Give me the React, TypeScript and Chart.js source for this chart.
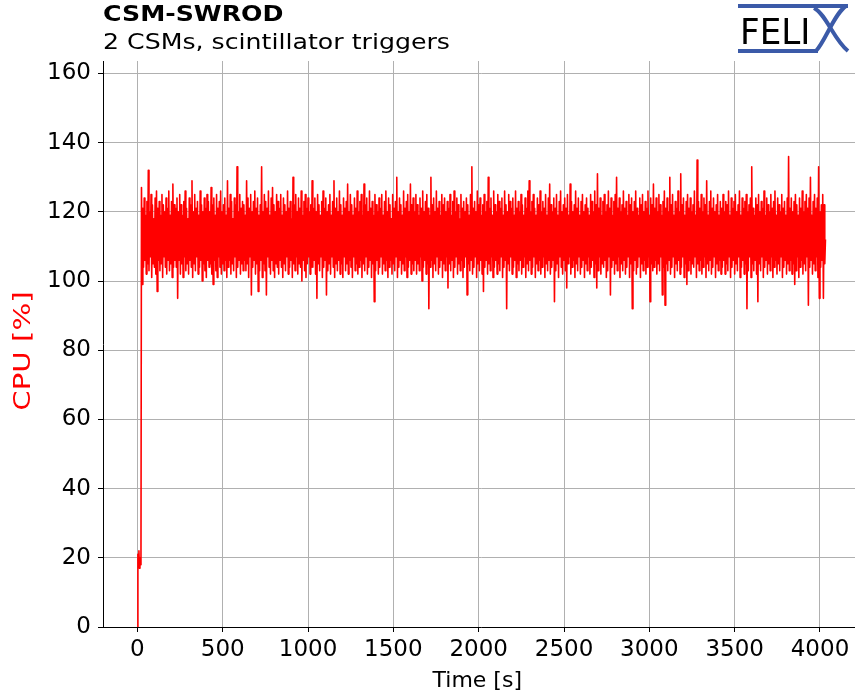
import React, { useEffect, useRef } from "react";
import { Chart, registerables } from "chart.js";

Chart.register(...registerables);

// ---------- text ----------
const titleText = "CSM-SWROD";
const subtitleText = "2 CSMs, scintillator triggers";
const xLabel = "Time [s]";
const yLabel = "CPU [%]";
const logoText = "FELI";

// ---------- ticks ----------
const xTicks = [0, 500, 1000, 1500, 2000, 2500, 3000, 3500, 4000];
const yTicks = [0, 20, 40, 60, 80, 100, 120, 140, 160];

// ---------- data ----------
// start-up phase (seconds, CPU %)
const startupTimes = [0, 3, 6, 9, 12, 15, 18, 21];
const startupCpu = [0, 21, 19, 22, 17, 20, 18, 20];

// steady running: one reading every sampleStep seconds, starting at sampleStart
const sampleStart = 24;
const sampleStep = 4;
const cpuSamples = [
  127, 99, 121, 104, 124, 106, 119, 102, 123, 105, 132, 103, 120, 107, 125, 101, 122, 105, 118, 104, 124, 102, 126, 97, 121, 106, 123, 103, 119, 105, 125, 101, 122, 107, 120, 104, 124, 102, 121, 106, 126, 103, 119, 105, 123, 101, 128, 104, 122, 106,
  121, 104, 124, 95, 120, 106, 125, 102, 122, 105, 119, 101, 123, 107, 126, 103, 121, 105, 118, 102, 124, 106, 122, 104, 129, 101, 120, 105, 125, 103, 121, 107, 123, 102, 119, 104, 126, 106, 122, 100, 120, 105, 124, 103, 121, 101, 125, 106, 123, 104,
  120, 105, 127, 102, 122, 99, 124, 106, 119, 103, 125, 101, 121, 107, 123, 104, 126, 102, 120, 105, 122, 103, 124, 106, 119, 101, 129, 104, 121, 106, 125, 102, 123, 105, 118, 103, 124, 107, 122, 101, 133, 104, 120, 106, 125, 102, 121, 105, 123, 103,
  122, 106, 119, 103, 129, 105, 124, 101, 121, 107, 125, 96, 120, 104, 123, 106, 126, 102, 121, 105, 124, 97, 119, 103, 122, 106, 133, 101, 120, 105, 125, 103, 123, 96, 121, 107, 126, 104, 119, 102, 124, 106, 127, 103, 122, 101, 120, 105, 125, 104,
  123, 102, 121, 106, 125, 104, 119, 101, 124, 105, 122, 103, 120, 107, 126, 102, 121, 104, 123, 106, 118, 101, 130, 105, 122, 103, 125, 107, 120, 102, 124, 105, 121, 104, 126, 100, 119, 106, 123, 103, 125, 101, 121, 105, 124, 107, 120, 102, 122, 104,
  129, 104, 121, 106, 124, 102, 120, 95, 125, 105, 122, 103, 119, 107, 123, 101, 126, 104, 121, 106, 124, 96, 120, 103, 122, 105, 125, 102, 119, 107, 123, 104, 129, 101, 121, 105, 124, 103, 120, 106, 126, 102, 122, 105, 119, 101, 124, 107, 121, 103,
  123, 105, 128, 102, 120, 106, 125, 104, 122, 101, 119, 107, 124, 103, 121, 105, 126, 102, 120, 104, 123, 106, 125, 101, 119, 105, 128, 103, 122, 107, 124, 102, 120, 104, 126, 106, 121, 101, 123, 105, 119, 94, 125, 103, 122, 106, 120, 102, 124, 104,
  121, 107, 125, 102, 119, 105, 123, 103, 126, 106, 120, 101, 124, 104, 122, 106, 118, 102, 125, 105, 121, 103, 123, 107, 130, 101, 120, 104, 124, 106, 122, 102, 119, 105, 126, 103, 121, 107, 123, 101, 125, 104, 120, 106, 128, 102, 122, 105, 124, 103,
  120, 106, 125, 102, 122, 105, 119, 103, 124, 107, 121, 100, 126, 104, 120, 106, 123, 102, 125, 105, 121, 92, 119, 104, 130, 106, 122, 101, 124, 105, 120, 103, 126, 107, 121, 102, 123, 104, 119, 106, 125, 101, 122, 105, 124, 103, 120, 107, 123, 98,
  121, 105, 125, 103, 119, 106, 123, 101, 126, 104, 120, 107, 124, 102, 122, 105, 118, 103, 125, 106, 121, 101, 123, 104, 120, 107, 124, 96, 122, 105, 119, 103, 125, 106, 133, 102, 121, 104, 123, 107, 120, 101, 126, 105, 122, 103, 124, 106, 119, 102,
  122, 97, 125, 104, 120, 106, 123, 102, 130, 105, 121, 103, 124, 107, 119, 101, 126, 104, 122, 106, 120, 102, 125, 105, 123, 103, 121, 107, 124, 101, 119, 104, 126, 106, 122, 92, 120, 105, 125, 103, 123, 107, 121, 102, 124, 104, 119, 106, 126, 101,
  121, 105, 123, 103, 120, 106, 125, 102, 122, 104, 119, 107, 124, 101, 121, 105, 126, 103, 129, 106, 120, 102, 123, 104, 125, 107, 121, 101, 119, 105, 124, 103, 122, 106, 126, 102, 120, 104, 123, 107, 121, 101, 125, 105, 119, 103, 124, 106, 128, 102,
  122, 104, 120, 106, 124, 94, 121, 103, 125, 105, 119, 101, 123, 107, 126, 104, 120, 102, 122, 106, 124, 103, 121, 98, 125, 105, 119, 107, 128, 102, 123, 104, 120, 106, 122, 101, 126, 105, 121, 103, 124, 107, 119, 102, 123, 104, 125, 106, 120, 101,
  122, 105, 124, 103, 121, 107, 119, 102, 125, 104, 123, 106, 120, 101, 126, 105, 122, 98, 131, 103, 121, 107, 124, 102, 119, 105, 123, 104, 125, 106, 120, 101, 122, 103, 126, 107, 121, 96, 124, 104, 119, 106, 123, 102, 125, 105, 130, 103, 121, 107,
  124, 101, 120, 105, 122, 103, 126, 106, 121, 102, 123, 104, 119, 107, 125, 101, 122, 105, 124, 92, 120, 103, 123, 106, 126, 102, 121, 104, 119, 107, 124, 101, 122, 105, 125, 103, 120, 106, 123, 102, 121, 104, 126, 107, 119, 94, 124, 105, 122, 103,
  128, 104, 121, 106, 124, 102, 120, 105, 125, 103, 122, 107, 119, 96, 123, 104, 126, 93, 121, 105, 124, 103, 120, 106, 130, 102, 122, 104, 125, 107, 119, 101, 123, 105, 121, 103, 126, 106, 120, 102, 131, 104, 122, 107, 124, 101, 119, 105, 123, 99,
  125, 103, 121, 106, 124, 102, 120, 105, 122, 104, 126, 107, 119, 101, 135, 105, 123, 103, 121, 106, 125, 102, 120, 104, 124, 107, 122, 101, 129, 105, 119, 103, 123, 106, 126, 102, 121, 104, 124, 107, 120, 101, 122, 105, 125, 103, 119, 106, 123, 102,
  121, 104, 125, 106, 120, 102, 123, 105, 122, 103, 126, 107, 119, 101, 124, 104, 121, 106, 123, 102, 125, 105, 120, 103, 122, 107, 126, 101, 119, 104, 124, 106, 121, 102, 123, 105, 125, 92, 120, 103, 122, 107, 124, 101, 133, 105, 121, 103, 119, 106,
  124, 102, 122, 94, 125, 105, 120, 103, 123, 107, 121, 101, 126, 104, 119, 106, 124, 102, 122, 105, 120, 103, 125, 107, 121, 101, 123, 104, 126, 106, 119, 102, 124, 105, 122, 103, 120, 107, 125, 101, 121, 104, 123, 106, 119, 102, 124, 105, 136, 103,
  121, 106, 124, 102, 120, 105, 123, 99, 125, 103, 122, 107, 119, 101, 124, 104, 121, 106, 126, 102, 120, 105, 123, 103, 125, 107, 121, 93, 124, 104, 130, 106, 119, 102, 123, 105, 125, 103, 121, 107, 124, 101, 133, 95, 120, 104, 122, 106, 125, 95,
  122, 105, 112,
];

// ---------- styling ----------
const LINE_RED = "#ff0000";
const GRID_GRAY = "#b0b0b0";
const LOGO_BLUE = "#3b5aa8";
const FONT = "'DejaVu Sans', 'Noto Sans', sans-serif";

function drawStretched(
  ctx: CanvasRenderingContext2D,
  text: string,
  x: number,
  y: number,
  font: string,
  color: string,
  sx: number,
  align: CanvasTextAlign,
  angle = 0
) {
  ctx.save();
  ctx.translate(x, y);
  if (angle) ctx.rotate(angle);
  ctx.scale(sx, 1);
  ctx.font = font;
  ctx.fillStyle = color;
  ctx.textAlign = align;
  ctx.textBaseline = "alphabetic";
  ctx.fillText(text, 0, 0);
  ctx.restore();
}

const decorations = {
  id: "decorations",
  afterDraw(chart: any) {
    const ctx: CanvasRenderingContext2D = chart.ctx;
    const area = chart.chartArea;
    // titles
    drawStretched(ctx, titleText, 103, 21, `bold 20.5px ${FONT}`, "#000", 1.23, "left");
    drawStretched(ctx, subtitleText, 103, 48.5, `20.5px ${FONT}`, "#000", 1.23, "left");
    // axis labels
    drawStretched(ctx, xLabel, (area.left + area.right) / 2 - 4, 687, `22px ${FONT}`, "#000", 1.0, "center");
    drawStretched(ctx, yLabel, 30, 351, `22.5px ${FONT}`, LINE_RED, 1.3, "center", -Math.PI / 2);
    // logo
    ctx.save();
    ctx.strokeStyle = LOGO_BLUE;
    ctx.lineWidth = 4;
    ctx.lineCap = "butt";
    ctx.beginPath();
    ctx.moveTo(738, 6);
    ctx.lineTo(848, 6);
    ctx.stroke();
    ctx.beginPath();
    ctx.moveTo(738, 51);
    ctx.lineTo(818, 51);
    ctx.stroke();
    ctx.beginPath();
    ctx.moveTo(814, 8);
    ctx.bezierCurveTo(826, 14, 834, 40, 848, 51);
    ctx.stroke();
    ctx.beginPath();
    ctx.moveTo(816, 51);
    ctx.bezierCurveTo(826, 40, 834, 14, 846, 6);
    ctx.stroke();
    ctx.restore();
    drawStretched(ctx, logoText, 740, 44, `36px ${FONT}`, "#000", 0.95, "left");
  },
};

export default function App() {
  const canvasRef = useRef<HTMLCanvasElement | null>(null);

  useEffect(() => {
    const canvas = canvasRef.current;
    if (!canvas) return;

    const points = startupTimes
      .map((t, i) => ({ x: t, y: startupCpu[i] }))
      .concat(cpuSamples.map((v, i) => ({ x: sampleStart + i * sampleStep, y: v })));

    const chart = new Chart(canvas, {
      type: "line",
      data: {
        datasets: [
          {
            data: points,
            borderColor: LINE_RED,
            borderWidth: 1.6,
            borderJoinStyle: "round",
            pointRadius: 0,
            tension: 0,
            fill: false,
          },
        ],
      },
      options: {
        animation: false,
        responsive: true,
        maintainAspectRatio: false,
        layout: { padding: { top: 61, right: 10.5, bottom: 0, left: 0 } },
        plugins: {
          legend: { display: false },
          tooltip: { enabled: false },
          title: { display: false },
        },
        scales: {
          x: {
            type: "linear",
            min: -201.5,
            max: 4231.5,
            afterBuildTicks: (s: any) => {
              s.ticks = xTicks.map((v) => ({ value: v }));
            },
            afterFit: (s: any) => {
              s.height = 70;
            },
            ticks: {
              font: { family: FONT, size: 23 },
              color: "#000",
              padding: 4,
              maxRotation: 0,
              autoSkip: false,
              callback: (v: any) => String(v),
            },
            grid: {
              color: GRID_GRAY,
              lineWidth: 1,
              tickColor: "#000",
              tickLength: 5,
              drawTicks: true,
            },
            border: { color: "#000", width: 1 },
          },
          y: {
            type: "linear",
            min: 0,
            max: 163.6,
            afterBuildTicks: (s: any) => {
              s.ticks = yTicks.map((v) => ({ value: v }));
            },
            afterFit: (s: any) => {
              s.width = 103;
            },
            ticks: {
              font: { family: FONT, size: 23 },
              color: "#000",
              padding: 7,
              callback: (v: any) => String(v),
            },
            grid: {
              color: GRID_GRAY,
              lineWidth: 1,
              tickColor: "#000",
              tickLength: 5,
              drawTicks: true,
            },
            border: { color: "#000", width: 1 },
          },
        },
      },
      plugins: [decorations],
    });

    return () => chart.destroy();
  }, []);

  return (
    <div
      style={{
        position: "fixed",
        left: 0,
        top: 0,
        width: 855,
        height: 697,
        overflow: "hidden",
        background: "#fff",
      }}
    >
      <div style={{ position: "relative", width: 870, height: 697 }}>
        <canvas ref={canvasRef} />
      </div>
    </div>
  );
}
